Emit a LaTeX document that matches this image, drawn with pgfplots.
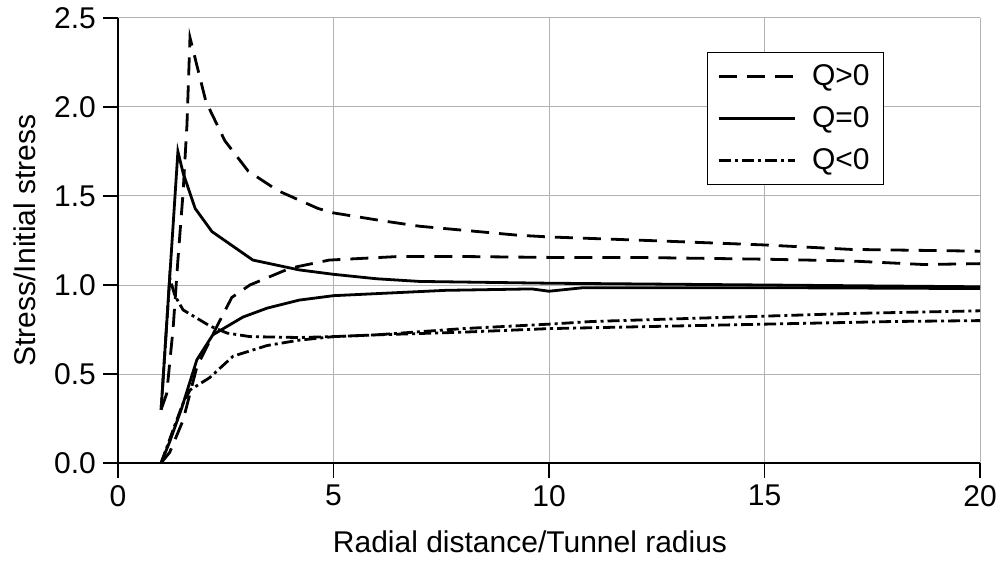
\documentclass[border=0pt]{standalone}
\usepackage{fontspec}
\setmainfont{Liberation Sans}
\usepackage{pgfplots}
\pgfplotsset{compat=1.18}

\newcommand{\lblfont}{\fontsize{15pt}{17pt}\selectfont}

\begin{document}
\begin{tikzpicture}
\useasboundingbox (-59pt,-49.5pt) rectangle (441pt,231.5pt);
\begin{axis}[
    scale only axis,
    width=431pt, height=222.5pt,
    xmin=0, xmax=20, ymin=0, ymax=2.5,
    xtick={0,5,10,15,20},
    ytick={0,0.5,1,1.5,2,2.5},
    yticklabel style={/pgf/number format/.cd, fixed, fixed zerofill, precision=1},
    /pgf/number format/assume math mode=true,
    tick label style={font=\lblfont},
    label style={font=\lblfont},
    axis x line*=bottom, axis y line*=left,
    axis line style={-, line width=0.8pt},
    tick align=outside,
    major tick length=7.5pt,
    tick style={black, line width=0.6pt},
    grid=major,
    grid style={gray!60, line width=0.5pt},
    xlabel={Radial distance/Tunnel radius},
    ylabel={Stress/Initial stress},
    xlabel style={at={(axis description cs:0.478,-0.2)}, anchor=base},
    ylabel style={at={(axis description cs:-0.108,0.5)}, anchor=center},
    legend style={at={(axis description cs:0.683,0.924)}, anchor=north west,
        font=\lblfont, draw=black, line width=0.5pt, fill=white,
        inner xsep=5pt, inner ysep=4pt, row sep=5pt},
    legend cell align=left,
    legend image code/.code={\draw[#1] (0pt,0pt) -- (38pt,0pt); \path (44pt,0pt);},
    every axis plot/.append style={line width=1.4pt, black},
]
% Q>0 tangential
\addplot[dash pattern=on 9pt off 5pt] coordinates {
 (1.0,0.30)(1.13,0.39)(1.28,0.76)(1.39,1.14)(1.51,1.52)(1.60,1.90)(1.67,2.39)
 (2.04,2.03)(2.48,1.81)(3.02,1.64)(3.71,1.53)(4.64,1.43)(5,1.405)(6.15,1.36)
 (7,1.33)(9.26,1.28)(10,1.27)(12.3,1.25)(15,1.225)(17,1.20)(20,1.19)};
\addlegendentry{Q>0\hspace{8pt}}
% Q=0 tangential
\addplot[solid] coordinates {
 (1.0,0.30)(1.39,1.75)(1.51,1.63)(1.79,1.43)(2.18,1.30)(3.13,1.14)(4.2,1.085)
 (5,1.06)(6,1.035)(7,1.02)(10,1.01)(15,1.0)(20,0.99)};
\addlegendentry{Q=0\hspace{8pt}}
% Q<0 tangential
\addplot[dash pattern=on 6pt off 2pt on 1.5pt off 2pt] coordinates {
 (1.0,0.30)(1.2,1.04)(1.32,0.94)(1.51,0.86)(2.13,0.77)(2.53,0.73)(3.06,0.71)
 (4.2,0.705)(5,0.71)(6,0.72)(8,0.755)(10,0.78)(11,0.795)(12.3,0.805)(15,0.825)
 (17,0.84)(20,0.855)};
\addlegendentry{Q<0\hspace{8pt}}
% Q>0 radial
\addplot[dash pattern=on 9pt off 5pt, forget plot] coordinates {
 (1.0,0)(1.2,0.06)(1.51,0.24)(1.83,0.54)(2.3,0.77)(2.64,0.93)(3.06,1.0)
 (4.0,1.095)(4.9,1.14)(6.5,1.16)(8,1.16)(10,1.155)(12,1.155)(15,1.145)
 (17,1.135)(18.7,1.115)(20,1.12)};
% Q=0 radial
\addplot[solid, forget plot] coordinates {
 (1.0,0)(1.2,0.12)(1.48,0.31)(1.83,0.58)(2.2,0.72)(2.9,0.82)(3.46,0.87)
 (4.2,0.915)(5,0.94)(7.6,0.97)(9.6,0.978)(10,0.965)(10.8,0.985)(15,0.985)(20,0.98)};
% Q<0 radial
\addplot[dash pattern=on 6pt off 2pt on 1.5pt off 2pt, forget plot] coordinates {
 (1.0,0)(1.3,0.2)(1.5,0.33)(1.67,0.41)(2.13,0.48)(2.67,0.60)(3.46,0.66)
 (4.2,0.69)(5,0.71)(6,0.72)(8,0.735)(10,0.755)(12,0.765)(15,0.78)(18,0.795)(20,0.80)};
\end{axis}
\end{tikzpicture}
\end{document}
